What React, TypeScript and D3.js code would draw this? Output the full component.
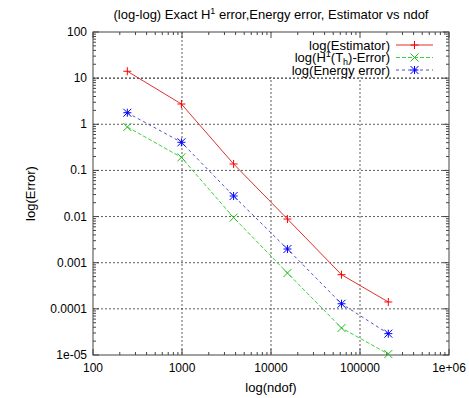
import React from "react";
import * as d3 from "d3";

const ndof = [243, 985, 3800, 15300, 62000, 208000];
const estimator = [14.1, 2.75, 0.138, 0.00885, 0.00055, 0.000141];
const h1Error = [0.873, 0.192, 0.0095, 0.000598, 3.85e-5, 1.05e-5];
const energyError = [1.78, 0.407, 0.0279, 0.00198, 0.000129, 2.9e-5];

const xTicks = [100, 1000, 10000, 100000, 1000000];
const xTickLabels = ["100", "1000", "10000", "100000", "1e+06"];
const yTicks = [1e-5, 1e-4, 1e-3, 1e-2, 0.1, 1, 10, 100];
const yTickLabels = ["1e-05", "0.0001", "0.001", "0.01", "0.1", "1", "10", "100"];

const W = 469, H = 398;
const L = 93, R = 449, T = 32, B = 355;
const FONT = "'Liberation Sans', Arial, Helvetica, sans-serif";

type Marker = "plus" | "cross" | "star";

function MarkerShape({ x, y, type, color }: { x: number; y: number; type: Marker; color: string }) {
  const s = 4;
  const plus = `M${x - s},${y}H${x + s}M${x},${y - s}V${y + s}`;
  const cross = `M${x - s},${y - s}L${x + s},${y + s}M${x - s},${y + s}L${x + s},${y - s}`;
  const d = type === "plus" ? plus : type === "cross" ? cross : plus + cross;
  return <path d={d} stroke={color} strokeWidth={1} fill="none" />;
}

export default function App() {
  const x = d3.scaleLog().domain([100, 1e6]).range([L, R]);
  const y = d3.scaleLog().domain([1e-5, 100]).range([B, T]);

  const series = [
    { name: "est", values: estimator, color: "#e03030", mcolor: "#ff0000", dash: "none", marker: "plus" as Marker },
    { name: "h1", values: h1Error, color: "#40d040", mcolor: "#20c020", dash: "4,2", marker: "cross" as Marker },
    { name: "en", values: energyError, color: "#5050d0", mcolor: "#0000ff", dash: "3,3", marker: "star" as Marker },
  ];

  const line = d3
    .line<[number, number]>()
    .x((d) => x(d[0]))
    .y((d) => y(d[1]));

  const xMinor: number[] = [];
  for (let e = 2; e < 6; e++) for (let k = 2; k <= 9; k++) xMinor.push(k * Math.pow(10, e));
  const yMinor: number[] = [];
  for (let e = -5; e < 2; e++) for (let k = 2; k <= 9; k++) yMinor.push(k * Math.pow(10, e));

  const major = 6, minor = 3;
  const axisColor = "#444";

  const legendRows = [
    { y: 45, s: series[0] },
    { y: 57.5, s: series[1] },
    { y: 70, s: series[2] },
  ];

  return (
    <svg width={W} height={H} style={{ position: "absolute", left: 0, top: 0, background: "#fff" }} fontFamily={FONT}>
      <rect x={0} y={0} width={W} height={H} fill="#fff" />
      {/* grid */}
      {xTicks.slice(1, -1).map((t) => (
        <line key={"gx" + t} x1={x(t)} x2={x(t)} y1={T} y2={B} stroke="#333" strokeWidth={0.8} strokeDasharray="2,2" />
      ))}
      {yTicks.slice(1, -1).map((t) => (
        <line key={"gy" + t} x1={L} x2={R} y1={y(t)} y2={y(t)} stroke="#333" strokeWidth={0.8} strokeDasharray="2,2" />
      ))}
      {/* key blanking area */}
      <rect x={266} y={T + 1} width={R - 266 - 1} height={44} fill="#fff" />
      <line x1={L} x2={R} y1={y(10)} y2={y(10)} stroke="#333" strokeWidth={0.8} strokeDasharray="2,2" />

      {/* ticks */}
      {xTicks.map((t) => (
        <g key={"xt" + t}>
          <line x1={x(t)} x2={x(t)} y1={B} y2={B - major} stroke={axisColor} />
          <line x1={x(t)} x2={x(t)} y1={T} y2={T + major} stroke={axisColor} />
        </g>
      ))}
      {xMinor.map((t) => (
        <g key={"xm" + t}>
          <line x1={x(t)} x2={x(t)} y1={B} y2={B - minor} stroke={axisColor} />
          <line x1={x(t)} x2={x(t)} y1={T} y2={T + minor} stroke={axisColor} />
        </g>
      ))}
      {yTicks.map((t) => (
        <g key={"yt" + t}>
          <line x1={L} x2={L + major} y1={y(t)} y2={y(t)} stroke={axisColor} />
          <line x1={R} x2={R - major} y1={y(t)} y2={y(t)} stroke={axisColor} />
        </g>
      ))}
      {yMinor.map((t) => (
        <g key={"ym" + t}>
          <line x1={L} x2={L + minor} y1={y(t)} y2={y(t)} stroke={axisColor} />
          <line x1={R} x2={R - minor} y1={y(t)} y2={y(t)} stroke={axisColor} />
        </g>
      ))}
      <rect x={L} y={T} width={R - L} height={B - T} fill="none" stroke={axisColor} strokeWidth={1} />

      {/* tick labels */}
      {xTicks.map((t, i) => (
        <text key={"xl" + t} x={x(t)} y={372} fontSize={12} textAnchor="middle" fill="#000">
          {xTickLabels[i]}
        </text>
      ))}
      {yTicks.map((t, i) => (
        <text key={"yl" + t} x={87} y={y(t) + 4} fontSize={12} textAnchor="end" fill="#000">
          {yTickLabels[i]}
        </text>
      ))}

      {/* axis titles */}
      <text x={(L + R) / 2} y={392} fontSize={13} textAnchor="middle">log(ndof)</text>
      <text transform={`translate(35,${(T + B) / 2}) rotate(-90)`} fontSize={13} textAnchor="middle">log(Error)</text>
      <text x={(L + R) / 2} y={19} fontSize={13} textAnchor="middle">
        (log-log) Exact H<tspan fontSize={9} dy={-5}>1</tspan>
        <tspan dy={5}> error,Energy error, Estimator vs ndof</tspan>
      </text>

      {/* series */}
      {series.map((s) => {
        const pts: [number, number][] = ndof.map((n, i) => [n, s.values[i]]);
        return (
          <g key={s.name}>
            <path d={line(pts) || ""} fill="none" stroke={s.color} strokeWidth={1} strokeDasharray={s.dash} />
            {pts.map((p, i) => (
              <MarkerShape key={i} x={x(p[0])} y={y(p[1])} type={s.marker} color={s.mcolor} />
            ))}
          </g>
        );
      })}

      {/* legend */}
      {legendRows.map((r, i) => (
        <g key={"lg" + i}>
          <line x1={396} x2={433} y1={r.y} y2={r.y} stroke={r.s.color} strokeWidth={1} strokeDasharray={r.s.dash} />
          <MarkerShape x={414.5} y={r.y} type={r.s.marker} color={r.s.mcolor} />
        </g>
      ))}
      <text x={390} y={49.5} fontSize={13} textAnchor="end">log(Estimator)</text>
      <text x={390} y={62} fontSize={13} textAnchor="end">
        log(H<tspan fontSize={9} dy={-5}>1</tspan>
        <tspan dy={5}>(T</tspan>
        <tspan fontSize={9} dy={3}>h</tspan>
        <tspan dy={-3}>)-Error)</tspan>
      </text>
      <text x={390} y={74.5} fontSize={13} textAnchor="end">log(Energy error)</text>
    </svg>
  );
}
